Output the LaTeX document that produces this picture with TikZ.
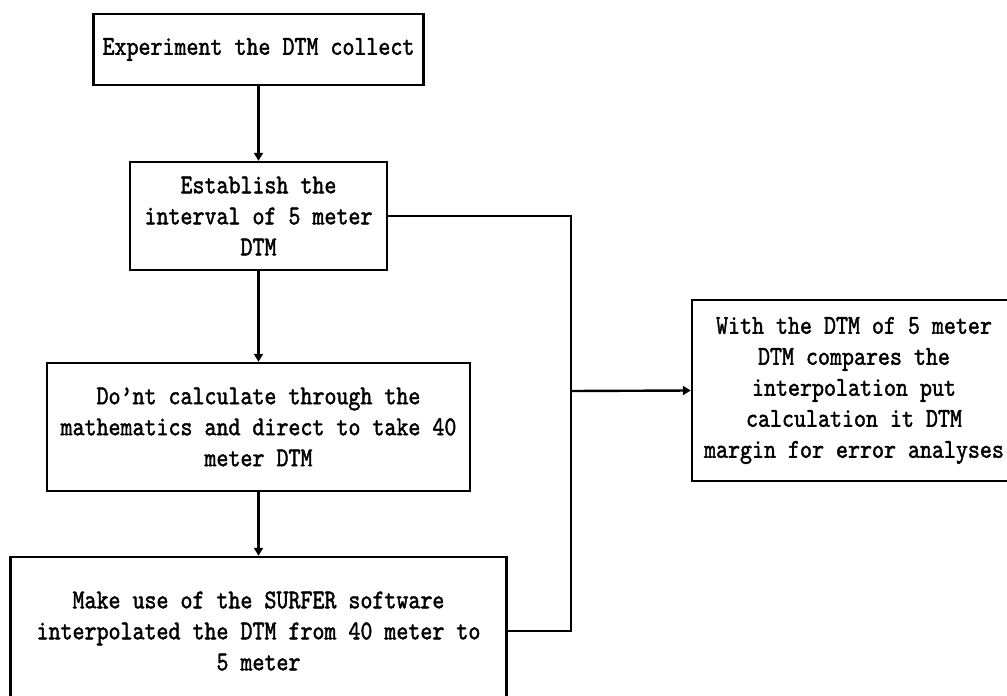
\documentclass[tikz,border=0pt]{standalone}
\usepackage{fontspec}
\usetikzlibrary{arrows.meta}
\newfontfamily\dengkuan{lmmono10-regular.otf}[FakeStretch=0.84,FakeBold=1.5]
\begin{document}
\begin{tikzpicture}[x=0.5pt,y=-0.5pt,line width=1.2pt,font=\dengkuan\fontsize{13.6}{15.5}\selectfont]
	\tikzstyle{kuang}=[draw,rectangle,align=center,inner sep=0pt];
	\tikzstyle{jiantou}=[-{Triangle[length=4pt,width=4.5pt]}];

	\clip (0,0) rectangle (1007,696);
	\node[kuang,minimum width=165pt,minimum height=35.5pt] (caiji) at (258.5,49.5)
		{Experiment the DTM collect};
	\node[kuang,minimum width=128.5pt,minimum height=54pt] (jianli) at (258.5,216)
		{Establish the\\interval of 5 meter\\DTM};
	\node[kuang,minimum width=211.5pt,minimum height=64pt] (quqi) at (258.5,427)
		{Do’nt calculate through the\\mathematics and direct to take 40\\meter DTM};
	\node[kuang,minimum width=248pt,minimum height=74pt] (chazhi) at (258.5,631)
		{Make use of the SURFER software\\interpolated the DTM from 40 meter to\\5 meter};
	\node[kuang,minimum width=162pt,minimum height=90.5pt] (bijiao) at (854,390.5)
		{With the DTM of 5 meter\\DTM compares the\\interpolation put\\calculation it DTM\\margin for error analyses};
	\coordinate (huiju) at (571,391);

	\draw[jiantou] (caiji.south) -- (jianli.north);
	\draw[jiantou] (jianli.south) -- (quqi.north);
	\draw[jiantou] (quqi.south) -- (chazhi.north);
	\draw (jianli.east) -| (huiju);
	\draw (chazhi.east) -| (huiju);
	\draw[jiantou] (huiju) -- (bijiao.west);
\end{tikzpicture}
\end{document}
